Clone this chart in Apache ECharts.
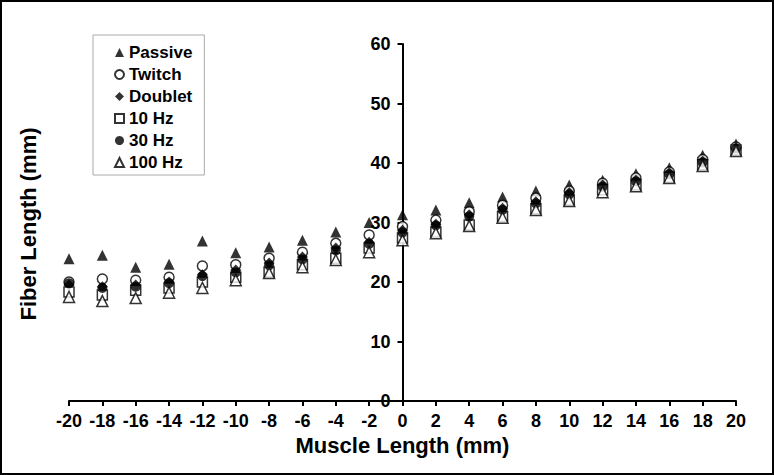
<!DOCTYPE html>
<html>
<head>
<meta charset="utf-8">
<script src="https://cdn.jsdelivr.net/npm/echarts@6/dist/echarts.min.js"></script>
<style>
  html, body { margin: 0; padding: 0; background: #fff; }
  #chart { width: 774px; height: 475px; }
</style>
</head>
<body>
<div id="chart"></div>
<script>
// muscle length (mm), -20 .. 20 step 2
const muscleLength = [-20, -18, -16, -14, -12, -10, -8, -6, -4, -2, 0, 2, 4, 6, 8, 10, 12, 14, 16, 18, 20]

// fiber length (mm)
const passive = [23.9, 24.5, 22.5, 23.0, 26.9, 24.9, 25.9, 27.0, 28.4, 30.0, 31.3, 32.1, 33.3, 34.3, 35.3, 36.3, 37.1, 38.2, 39.2, 41.3, 43.2]
const twitch = [20.0, 20.5, 20.3, 20.8, 22.7, 22.9, 24.0, 25.0, 26.5, 27.9, 29.3, 30.4, 31.8, 32.9, 34.1, 35.3, 36.6, 37.5, 38.5, 40.6, 42.7]
const doublet = [19.5, 19.2, 19.5, 20.0, 21.2, 22.0, 23.2, 24.2, 25.7, 26.7, 28.7, 29.7, 31.3, 32.4, 33.5, 35.0, 36.3, 37.1, 38.3, 40.3, 42.6]
const hz10 = [18.3, 17.8, 18.6, 19.0, 20.0, 20.8, 21.7, 22.9, 24.0, 25.7, 27.4, 28.4, 29.6, 31.0, 32.3, 33.8, 35.5, 36.3, 37.6, 39.7, 42.2]
const hz30 = [19.8, 19.0, 19.2, 19.8, 21.0, 21.6, 22.8, 23.8, 25.3, 26.4, 28.3, 29.5, 31.0, 32.1, 33.2, 34.7, 36.0, 36.9, 38.1, 40.1, 42.4]
const hz100 = [17.5, 16.8, 17.3, 18.2, 19.0, 20.3, 21.5, 22.5, 23.7, 25.0, 27.0, 28.2, 29.4, 30.8, 32.1, 33.6, 35.1, 36.1, 37.5, 39.5, 42.0]

const seriesNames = ['Passive', 'Twitch', 'Doublet', '10 Hz', '30 Hz', '100 Hz']

const font = "'Liberation Sans', Arial, sans-serif"

const pairs = (ys) => muscleLength.map((x, i) => [x, ys[i]])

const filled = { color: '#000', borderColor: '#000', borderWidth: 0 }
const open = { color: '#fff', borderColor: '#000', borderWidth: 1.5 }

const makeSeries = (name, ys, symbol, size, style) => ({
  name,
  type: 'scatter',
  data: pairs(ys),
  symbol,
  symbolSize: size,
  itemStyle: style,
  emphasis: { disabled: true }
})

const gridLeft = 69
const gridRight = 38
const plotWidth = 774 - gridLeft - gridRight
// move the y axis from the grid's left edge to x = 0
const yAxisOffset = -plotWidth / 2

const chart = echarts.init(document.getElementById('chart'), null, { renderer: 'svg' })

chart.setOption({
  backgroundColor: '#fff',
  animation: false,
  grid: {
    left: gridLeft,
    right: gridRight,
    top: 44,
    bottom: 74
  },
  legend: {
    data: seriesNames,
    orient: 'vertical',
    left: 93,
    top: 35,
    itemWidth: 9,
    itemHeight: 9,
    itemGap: 5,
    padding: [9, 12, 4, 21],
    borderColor: '#aaa',
    borderWidth: 1,
    textStyle: {
      fontFamily: font,
      fontWeight: 'bold',
      fontSize: 17,
      color: '#000'
    }
  },
  xAxis: {
    type: 'value',
    min: -20,
    max: 20,
    interval: 2,
    name: 'Muscle Length (mm)',
    nameLocation: 'middle',
    nameGap: 33,
    nameTextStyle: {
      fontFamily: font,
      fontWeight: 'bold',
      fontSize: 22,
      color: '#000'
    },
    axisLine: { lineStyle: { color: '#000', width: 2 } },
    axisTick: { length: 5, lineStyle: { color: '#000', width: 2 } },
    axisLabel: {
      margin: 11,
      fontFamily: font,
      fontWeight: 'bold',
      fontSize: 18,
      color: '#000'
    },
    splitLine: { show: false }
  },
  yAxis: {
    type: 'value',
    min: 0,
    max: 60,
    interval: 10,
    offset: yAxisOffset,
    axisLine: { onZero: false, lineStyle: { color: '#000', width: 2 } },
    axisTick: { length: 5, lineStyle: { color: '#000', width: 2 } },
    axisLabel: {
      margin: 12,
      fontFamily: font,
      fontWeight: 'bold',
      fontSize: 18,
      color: '#000'
    },
    splitLine: { show: false }
  },
  graphic: [
    {
      type: 'text',
      x: 28,
      y: 224,
      rotation: Math.PI / 2,
      style: {
        text: 'Fiber Length (mm)',
        fontFamily: font,
        fontWeight: 'bold',
        fontSize: 22,
        fill: '#000',
        align: 'center',
        verticalAlign: 'middle'
      }
    },
    {
      type: 'rect',
      shape: { x: 1, y: 1, width: 772, height: 473 },
      style: { fill: null, stroke: '#000', lineWidth: 2 },
      silent: true
    }
  ],
  series: [
    makeSeries('Passive', passive, 'triangle', 11, filled),
    makeSeries('Twitch', twitch, 'circle', 10, open),
    makeSeries('Doublet', doublet, 'diamond', 11, filled),
    makeSeries('10 Hz', hz10, 'rect', 10, open),
    makeSeries('30 Hz', hz30, 'circle', 10, filled),
    makeSeries('100 Hz', hz100, 'triangle', 11, open)
  ]
})

window.addEventListener('resize', () => chart.resize())
</script>
</body>
</html>
